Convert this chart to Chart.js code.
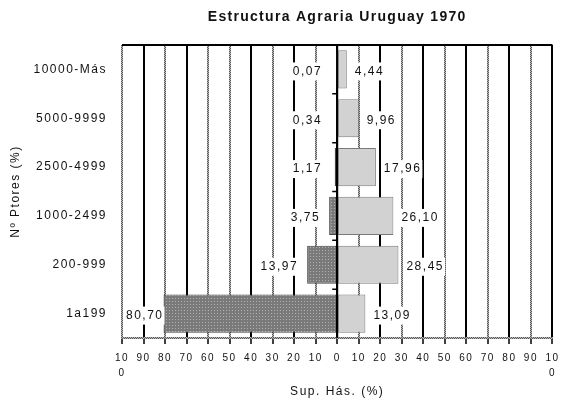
<!DOCTYPE html>
<html>
<head>
<meta charset="utf-8">
<script src="https://cdn.jsdelivr.net/npm/chart.js@4.4.0/dist/chart.umd.min.js"></script>
<style>
  html, body { margin: 0; padding: 0; background: #fff; }
</style>
</head>
<body>
<canvas id="chart" width="564" height="401"></canvas>
<script>
// Estructura agraria, Uruguay 1970
const categories = ['10000-Más', '5000-9999', '2500-4999', '1000-2499', '200-999', '1a199'];
// % of producers (drawn to the left) and % of land surface (to the right)
const productores = [0.07, 0.34, 1.17, 3.75, 13.97, 80.70];
const superficie = [4.44, 9.96, 17.96, 26.10, 28.45, 13.09];
const xTickLabels = ['10\n0', '90', '80', '70', '60', '50', '40', '30', '20', '10', '0',
  '10', '20', '30', '40', '50', '60', '70', '80', '90', '10\n0'];
// ticks that get a solid black grid line, the rest are grey stippled
const blackGridTicks = [-90, -70, -40, -20, 0, 20, 40, 60, 80, 100];

const FONT = '"Liberation Sans", Arial, sans-serif';
const canvas = document.getElementById('chart');
const mainCtx = canvas.getContext('2d');

function makePattern(size, bg, dot, cells) {
  const tile = document.createElement('canvas');
  tile.width = tile.height = size;
  const g = tile.getContext('2d');
  g.fillStyle = bg;
  g.fillRect(0, 0, size, size);
  g.fillStyle = dot;
  cells.forEach(([x, y]) => g.fillRect(x, y, 1, 1));
  return mainCtx.createPattern(tile, 'repeat');
}

const greyLine = makePattern(2, '#b4b4b4', '#5a5a5a', [[0, 0], [1, 1]]);
const darkFill = makePattern(3, '#7a7a7a', '#b0b0b0', [[1, 1]]);

const isBlack = (ctx) => ctx.tick && blackGridTicks.includes(ctx.tick.value);

const chartText = {
  id: 'chartText',
  beforeDraw(chart) {
    chart.ctx.letterSpacing = '1.5px';
  },
  afterDatasetsDraw(chart) {
    const ctx = chart.ctx;
    const area = chart.chartArea;
    const xs = chart.scales.x;
    const ys = chart.scales.y;
    const x0 = xs.getPixelForValue(0);

    ctx.save();
    // frame top + zero line over the bars
    ctx.strokeStyle = '#000';
    ctx.lineWidth = 2;
    ctx.beginPath();
    ctx.moveTo(area.left, area.top);
    ctx.lineTo(area.right, area.top);
    ctx.moveTo(x0, area.top);
    ctx.lineTo(x0, area.bottom);
    ctx.stroke();

    // little ticks between the categories on the zero line
    ctx.lineWidth = 1.5;
    ctx.beginPath();
    for (let i = 1; i < categories.length; i++) {
      const y = ys.getPixelForValue(i - 0.5);
      ctx.moveTo(x0 - 5, y);
      ctx.lineTo(x0, y);
    }
    ctx.stroke();

    // value labels with white box behind them
    ctx.font = '12px ' + FONT;
    ctx.letterSpacing = '1.5px';
    ctx.textBaseline = 'middle';
    ctx.textAlign = 'left';
    chart.data.datasets.forEach((ds, di) => {
      const meta = chart.getDatasetMeta(di);
      meta.data.forEach((bar, i) => {
        const v = ds.data[i];
        const text = Math.abs(v).toFixed(2).replace('.', ',');
        const w = ctx.measureText(text).width;
        let left;
        if (v < 0) {
          left = Math.min(bar.x - 9, x0 - 15) - w;
          left = Math.max(left, area.left + 4);
        } else {
          left = bar.x + 8;
        }
        const y = bar.y + 2;
        ctx.fillStyle = '#fff';
        ctx.fillRect(left - 2, y - 9, w + 3, 18);
        ctx.fillStyle = '#111';
        ctx.fillText(text, left, y);
      });
    });

    ctx.restore();
  },
  afterDraw(chart) {
    const ctx = chart.ctx;
    const area = chart.chartArea;
    ctx.save();
    ctx.font = 'bold 14px ' + FONT;
    ctx.letterSpacing = '1.3px';
    ctx.fillStyle = '#111';
    ctx.textAlign = 'center';
    ctx.textBaseline = 'middle';
    ctx.fillText('Estructura Agraria Uruguay 1970', (area.left + area.right) / 2, 17);
    ctx.restore();
  }
};

new Chart(canvas, {
  type: 'bar',
  data: {
    labels: categories,
    datasets: [
      {
        label: 'Nº Ptores (%)',
        data: productores.map(v => -v),
        backgroundColor: darkFill,
        borderColor: '#444',
        borderWidth: 1,
        borderSkipped: false,
        barPercentage: 0.78,
        categoryPercentage: 1
      },
      {
        label: 'Sup. Hás. (%)',
        data: superficie,
        backgroundColor: '#d2d2d2',
        borderColor: '#7a7a7a',
        borderWidth: 1,
        borderSkipped: false,
        barPercentage: 0.78,
        categoryPercentage: 1
      }
    ]
  },
  options: {
    indexAxis: 'y',
    responsive: false,
    animation: false,
    layout: { padding: { top: 45, right: 9, left: 0, bottom: 0 } },
    plugins: {
      legend: { display: false },
      title: { display: false },
      tooltip: { enabled: false }
    },
    scales: {
      x: {
        stacked: true,
        min: -100,
        max: 100,
        afterFit: (s) => { s.height = 63; },
        ticks: {
          stepSize: 10,
          autoSkip: false,
          maxRotation: 0,
          padding: 6,
          color: '#111',
          font: { family: FONT, size: 10, lineHeight: 1.55 },
          callback: (value, index) => xTickLabels[index].split('\n')
        },
        grid: {
          color: (ctx) => isBlack(ctx) ? '#000' : greyLine,
          lineWidth: 2,
          tickColor: '#000',
          tickWidth: 1.5,
          tickLength: 6
        },
        border: { display: true, color: greyLine, width: 2 },
        title: {
          display: true,
          text: 'Sup. Hás. (%)',
          color: '#111',
          font: { family: FONT, size: 12 },
          padding: { top: 0, bottom: 2 }
        }
      },
      y: {
        stacked: true,
        afterFit: (s) => { s.width = 122; },
        ticks: {
          padding: 15,
          color: '#111',
          font: { family: FONT, size: 12 }
        },
        grid: { display: false, drawTicks: false },
        border: { display: false },
        title: {
          display: true,
          text: 'Nº Ptores (%)',
          color: '#111',
          font: { family: FONT, size: 12 },
          padding: { top: 8, bottom: 0 }
        }
      }
    }
  },
  plugins: [chartText]
});
</script>
</body>
</html>
